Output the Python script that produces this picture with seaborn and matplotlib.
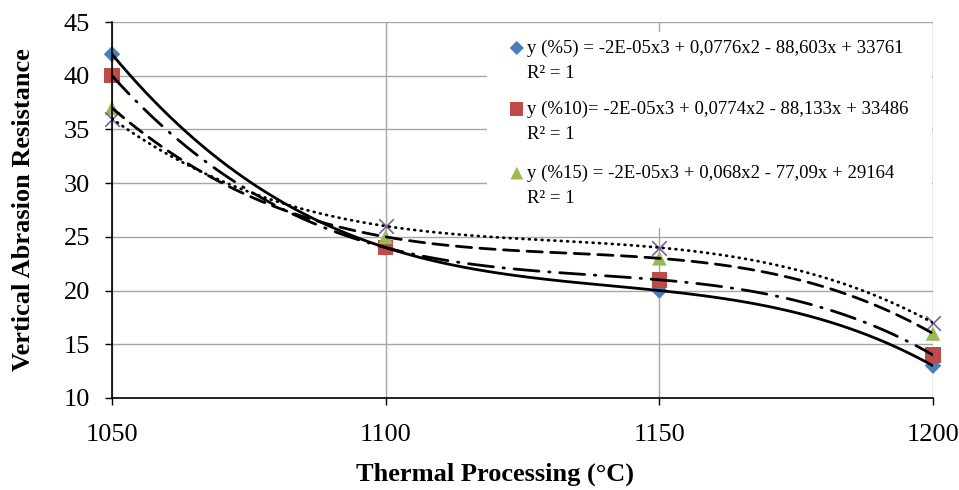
import seaborn as sns
import matplotlib.pyplot as plt
from matplotlib.patches import Rectangle

# data
temps = [1050, 1100, 1150, 1200]
res_5 = [42, 24, 20, 13]
res_10 = [40, 24, 21, 14]
res_15 = [37, 25, 23, 16]
res_20 = [36, 26, 24, 17]

eq_labels = [
    "y (%5) = -2E-05x3 + 0,0776x2 - 88,603x + 33761",
    "y (%10)= -2E-05x3 + 0,0774x2 - 88,133x + 33486",
    "y (%15) = -2E-05x3 + 0,068x2 - 77,09x + 29164",
]
r2_label = "R² = 1"

sns.set_style("white")
plt.rcParams['font.family'] = ['Liberation Serif', 'DejaVu Serif']
plt.rcParams['text.color'] = 'black'
plt.rcParams['axes.labelcolor'] = 'black'
plt.rcParams['xtick.color'] = 'black'
plt.rcParams['ytick.color'] = 'black'

fig = plt.figure(figsize=(9.59, 4.9), dpi=100)
ax = fig.add_axes([0.1168, 0.1878, 0.8561, 0.7673])

series = [
    (res_5, "#4A7EBB", "D", 70, "-"),
    (res_10, "#BE4B48", "s", 125, (0, (9, 3.5, 0.5, 3.5))),
    (res_15, "#98B954", "^", 110, (0, (5.5, 3))),
    (res_20, "#7D60A0", "x", 110, (0, (0.3, 2.0))),
]

for vals, col, mk, sz, ls in series:
    if mk == "x":
        sns.scatterplot(x=temps, y=vals, marker=mk, s=sz, color=col,
                        linewidth=1.2, ax=ax, zorder=2, clip_on=False)
    else:
        sns.scatterplot(x=temps, y=vals, marker=mk, s=sz, color=col,
                        edgecolor="none", linewidth=0, ax=ax, zorder=2,
                        clip_on=False)
    # cubic trendline (R² = 1 through the four points)
    sns.regplot(x=temps, y=vals, order=3, ci=None, scatter=False, ax=ax,
                line_kws=dict(color="black", lw=2.0, ls=ls, zorder=3,
                              dash_capstyle="round"))

ax.set_xlim(1050, 1200)
ax.set_ylim(10, 45)
ax.set_xticks(temps)
ax.set_yticks(range(10, 50, 5))

ax.set_axisbelow(True)
ax.grid(True, color="#A6A6A6", lw=1.0)
for side in ["top", "right"]:
    ax.spines[side].set_visible(False)
for side in ["left", "bottom"]:
    ax.spines[side].set_color("black")
    ax.spines[side].set_linewidth(1.2)

ax.tick_params(axis="x", direction="out", length=5, width=1,
               pad=14, labelsize=19, bottom=True)
ax.tick_params(axis="y", direction="out", length=5, width=1,
               pad=11, labelsize=19, left=True)

ax.set_xlabel("Thermal Processing (°C)", fontsize=19, fontweight="bold")
ax.set_ylabel("Vertical Abrasion Resistance", fontsize=19, fontweight="bold")
ax.xaxis.set_label_coords(0.466, -0.173)
ax.yaxis.set_label_coords(-0.094, 0.5)

# legend box (Excel style, white background, no frame)
ax.add_patch(Rectangle((0.457, 0.452), 0.542, 0.521, transform=ax.transAxes,
                       facecolor="white", edgecolor="none", zorder=1))
key_y = [0.931, 0.769, 0.598]
for (vals, col, mk, sz, ls), lab, y in zip(series[:3], eq_labels, key_y):
    ax.scatter([0.493], [y], transform=ax.transAxes, marker=mk, s=sz * 0.75,
               color=col, edgecolor="none", zorder=4, clip_on=False)
    ax.text(0.505, y, lab, transform=ax.transAxes, fontsize=13.5,
            va="center", ha="left", zorder=4)
    ax.text(0.505, y - 0.067, r2_label, transform=ax.transAxes, fontsize=13.5,
            va="center", ha="left", zorder=4)

fig.savefig("out.png", dpi=100)
